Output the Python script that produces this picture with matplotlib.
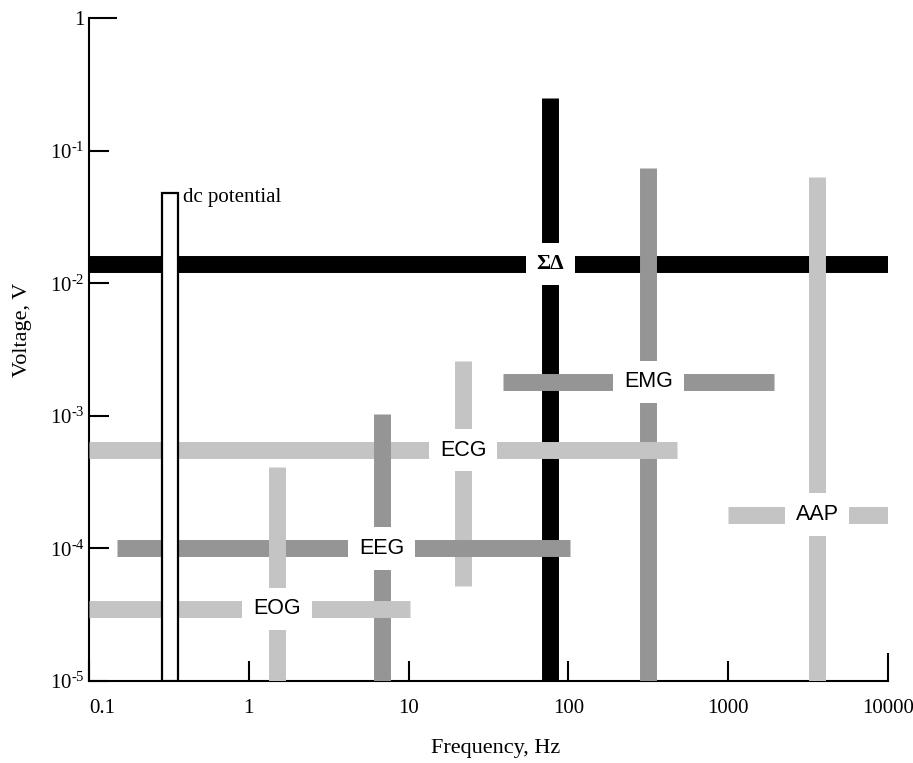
import numpy as np
import matplotlib
matplotlib.use("Agg")
import matplotlib.pyplot as plt

plt.rcParams['font.family'] = ['Liberation Serif', 'DejaVu Serif']
plt.rcParams['mathtext.fontset'] = 'custom'
plt.rcParams['mathtext.rm'] = 'Liberation Serif'
plt.rcParams['mathtext.it'] = 'Liberation Serif'

# signal crosses: horizontal bar = frequency range at a typical voltage,
# vertical bar = voltage range at a typical frequency
names = ['ΣΔ', 'EMG', 'ECG', 'EEG', 'EOG', 'AAP']
freq_center = [77, 317, 22, 6.8, 1.5, 3600]
volt_level = [0.014, 0.0018, 5.5e-4, 1.0e-4, 3.5e-5, 1.8e-4]
freq_lo = [0.1, 39, 0.1, 0.15, 0.1, 1000]
freq_hi = [10000, 1930, 475, 103, 10.2, 10000]
volt_lo = [1e-5, 1e-5, 5.2e-5, 1e-5, 1e-5, 1e-5]
volt_hi = [0.25, 0.074, 2.6e-3, 1.03e-3, 4.1e-4, 0.063]
colors = ['black', '#959595', '#c4c4c4', '#959595', '#c4c4c4', '#c4c4c4']

# dc potential bar
dc_lo, dc_hi = 0.285, 0.359
dc_top = 0.048

xticks = [0.1, 1, 10, 100, 1000, 10000]
xtick_labels = ['0.1', '1', '10', '100', '1000', '10000']
yticks = [1e-5, 1e-4, 1e-3, 1e-2, 1e-1, 1]
ytick_labels = [r'$10^{\text{-}5}$', r'$10^{\text{-}4}$', r'$10^{\text{-}3}$',
                r'$10^{\text{-}2}$', r'$10^{\text{-}1}$', '1']

fig = plt.figure(figsize=(9.13, 7.63), dpi=100)
ax = fig.add_axes([89/913, 1-681/763, (888-89)/913, (681-18)/763])
ax.set_xscale('log')
ax.set_yscale('log')
ax.set_xlim(0.1, 10000)
ax.set_ylim(1e-5, 1)

bw = 12.2
for i in range(len(names)):
    z = 2 + i
    ax.plot([freq_lo[i], freq_hi[i]], [volt_level[i], volt_level[i]],
            color=colors[i], lw=bw, solid_capstyle='butt', zorder=z)
    ax.plot([freq_center[i], freq_center[i]], [volt_lo[i], volt_hi[i]],
            color=colors[i], lw=bw, solid_capstyle='butt', zorder=z)

ax.bar(dc_lo, dc_top - 1e-5, width=dc_hi - dc_lo, bottom=1e-5, align='edge',
       facecolor='white', edgecolor='black', linewidth=1.6, zorder=10)
ax.text(0.385, 0.044, 'dc potential', fontsize=15, ha='left', va='center', zorder=11)

for i in range(len(names)):
    if names[i] == 'ΣΔ':
        fp = dict(family='Liberation Serif', weight='bold', fontsize=15.5)
    else:
        fp = dict(family='Liberation Sans', fontsize=15.5)
    ax.text(freq_center[i], volt_level[i], names[i], ha='center', va='center',
            zorder=12, bbox=dict(boxstyle='square,pad=0.5', fc='white', ec='none'), **fp)

ax.spines['top'].set_visible(False)
ax.spines['right'].set_visible(False)
for s in ['left', 'bottom']:
    ax.spines[s].set_linewidth(1.5)

ax.xaxis.set_major_locator(matplotlib.ticker.FixedLocator(xticks))
ax.yaxis.set_major_locator(matplotlib.ticker.FixedLocator(yticks))
ax.xaxis.set_minor_locator(matplotlib.ticker.NullLocator())
ax.yaxis.set_minor_locator(matplotlib.ticker.NullLocator())
ax.set_xticklabels(xtick_labels)
ax.set_yticklabels(ytick_labels)
ax.tick_params(axis='both', direction='in', length=14.4, width=1.5, labelsize=15)
ax.tick_params(axis='x', pad=13)
ax.tick_params(axis='y', pad=3)
ax.get_xticklabels()[0].set_ha('left')
ax.xaxis.get_major_ticks()[-1].tick1line.set_markersize(20)
ax.yaxis.get_major_ticks()[-1].tick1line.set_markersize(20)

fig.text(496/913, 1-748/763, 'Frequency, Hz', fontsize=16, ha='center', va='center')
fig.text(23/913, 1-330/763, 'Voltage, V', fontsize=16, rotation=90, ha='center', va='center')

fig.savefig('out.png', dpi=100)
